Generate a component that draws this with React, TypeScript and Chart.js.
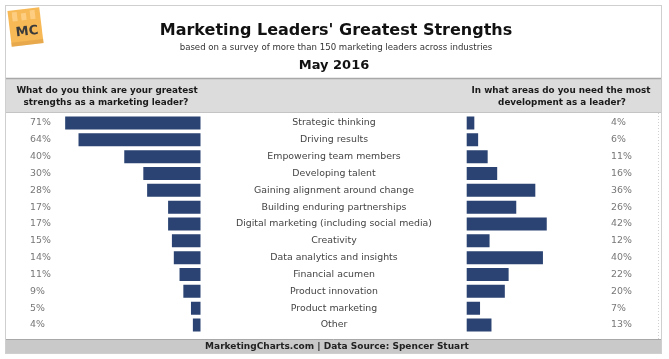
import React, { useEffect, useRef } from 'react';
import { Chart, registerables } from 'chart.js';

Chart.register(...registerables);

// ---- data ----
const categories = [
  'Strategic thinking',
  'Driving results',
  'Empowering team members',
  'Developing talent',
  'Gaining alignment around change',
  'Building enduring partnerships',
  'Digital marketing (including social media)',
  'Creativity',
  'Data analytics and insights',
  'Financial acumen',
  'Product innovation',
  'Product marketing',
  'Other',
];
const strengths = [71, 64, 40, 30, 28, 17, 17, 15, 14, 11, 9, 5, 4];
const development = [4, 6, 11, 16, 36, 26, 42, 12, 40, 22, 20, 7, 13];

const titleText = "Marketing Leaders' Greatest Strengths";
const subtitleText = 'based on a survey of more than 150 marketing leaders across industries';
const dateText = 'May 2016';
const leftHeader = ['What do you think are your greatest', 'strengths as a marketing leader?'];
const rightHeader = ['In what areas do you need the most', 'development as a leader?'];
const footerText = 'MarketingCharts.com | Data Source: Spencer Stuart';

// ---- layout ----
const W = 669;
const H = 359;
const AREA_L = 10;
const AREA_R = 659;
const AREA_T = 114.6;
const AREA_B = 333.4;
const PX_PER_UNIT = 1.906;
const LEFT_ZERO = 200.5;
const RIGHT_ZERO = 466.7;
const BAR_COLOR = '#2a4372';
const FONT = "'DejaVu Sans', Verdana, sans-serif";

const decorPlugin = {
  id: 'decor',
  beforeDraw(chart: any) {
    const ctx = chart.ctx as CanvasRenderingContext2D;
    ctx.save();
    ctx.fillStyle = '#ffffff';
    ctx.fillRect(0, 0, W, H);

    // header band
    ctx.fillStyle = '#dcdcdc';
    ctx.fillRect(5.5, 78.5, 656, 34);
    ctx.strokeStyle = '#a8a8a8';
    ctx.lineWidth = 1.5;
    ctx.beginPath();
    ctx.moveTo(5.5, 78.5);
    ctx.lineTo(661.5, 78.5);
    ctx.stroke();
    ctx.strokeStyle = '#c4c4c4';
    ctx.lineWidth = 1;
    ctx.beginPath();
    ctx.moveTo(5.5, 112.5);
    ctx.lineTo(661.5, 112.5);
    ctx.stroke();

    // footer band
    ctx.fillStyle = '#c9c9c9';
    ctx.fillRect(5.5, 339.5, 656, 14);
    ctx.strokeStyle = '#a8a8a8';
    ctx.beginPath();
    ctx.moveTo(5.5, 339.5);
    ctx.lineTo(661.5, 339.5);
    ctx.stroke();

    // dotted inner side lines
    ctx.strokeStyle = '#d0d0d0';
    ctx.setLineDash([1, 2]);
    ctx.beginPath();
    ctx.moveTo(658.5, 113);
    ctx.lineTo(658.5, 339);
    ctx.stroke();
    ctx.setLineDash([]);

    // outer border
    ctx.strokeStyle = '#cfcfcf';
    ctx.lineWidth = 1;
    ctx.strokeRect(5.5, 5.5, 656, 348);

    // logo
    ctx.save();
    ctx.translate(25.5, 27);
    ctx.rotate(-0.12);
    ctx.fillStyle = '#f7b955';
    ctx.fillRect(-16, -18, 32, 36);
    ctx.fillStyle = 'rgba(255,215,150,0.7)';
    ctx.fillRect(-12, -16, 5, 9);
    ctx.fillRect(-3, -14, 5, 7);
    ctx.fillRect(6, -16, 5, 9);
    ctx.fillStyle = 'rgba(200,140,60,0.35)';
    ctx.fillRect(-16, 14, 32, 4);
    ctx.fillStyle = '#3b3b3b';
    ctx.font = `bold 13px ${FONT}`;
    ctx.textAlign = 'center';
    ctx.textBaseline = 'middle';
    ctx.fillText('MC', 1, 5);
    ctx.restore();

    // titles
    ctx.textAlign = 'center';
    ctx.textBaseline = 'middle';
    ctx.fillStyle = '#111111';
    ctx.font = `bold 16px ${FONT}`;
    ctx.fillText(titleText, 336, 31);
    ctx.fillStyle = '#333333';
    ctx.font = `8.6px ${FONT}`;
    ctx.fillText(subtitleText, 336, 48);
    ctx.fillStyle = '#111111';
    ctx.font = `bold 13px ${FONT}`;
    ctx.fillText(dateText, 334, 66);

    // headers
    ctx.fillStyle = '#1a1a1a';
    ctx.font = `bold 8.8px ${FONT}`;
    ctx.fillText(leftHeader[0], 107, 90.5);
    ctx.fillText(leftHeader[1], 106, 103);
    ctx.fillText(rightHeader[0], 561, 90.5);
    ctx.fillText(rightHeader[1], 562, 103);

    // footer
    ctx.fillStyle = '#222222';
    ctx.font = `bold 9px ${FONT}`;
    ctx.fillText(footerText, 337, 346.5);
    ctx.restore();
  },
  afterDatasetsDraw(chart: any) {
    const ctx = chart.ctx as CanvasRenderingContext2D;
    const y = chart.scales.y;
    ctx.save();
    ctx.textBaseline = 'middle';
    ctx.font = `9.4px ${FONT}`;
    categories.forEach((c, i) => {
      const py = y.getPixelForValue(i);
      ctx.fillStyle = '#444444';
      ctx.textAlign = 'center';
      ctx.fillText(c, 334, py);
      ctx.fillStyle = '#777777';
      ctx.textAlign = 'left';
      ctx.fillText(`${strengths[i]}%`, 30, py);
      ctx.fillText(`${development[i]}%`, 611, py);
    });
    ctx.restore();
  },
};

export default function App() {
  const ref = useRef<HTMLCanvasElement | null>(null);
  useEffect(() => {
    if (!ref.current) return;
    const width = AREA_R - AREA_L;
    const chart = new Chart(ref.current, {
      type: 'bar',
      data: {
        labels: categories,
        datasets: [
          {
            label: 'Strengths',
            data: strengths,
            xAxisID: 'xL',
            backgroundColor: BAR_COLOR,
            grouped: false,
            barPercentage: 0.77,
            categoryPercentage: 1,
          } as any,
          {
            label: 'Development',
            data: development,
            xAxisID: 'xR',
            backgroundColor: BAR_COLOR,
            grouped: false,
            barPercentage: 0.77,
            categoryPercentage: 1,
          } as any,
        ],
      },
      options: {
        indexAxis: 'y',
        responsive: false,
        animation: false,
        devicePixelRatio: 1,
        layout: {
          padding: { left: AREA_L, right: W - AREA_R, top: AREA_T, bottom: H - AREA_B },
        },
        plugins: {
          legend: { display: false },
          title: { display: false },
          tooltip: { enabled: false },
        },
        scales: {
          y: { type: 'category', display: false, offset: true },
          xL: {
            type: 'linear',
            position: 'bottom',
            display: false,
            reverse: true,
            min: -(AREA_R - LEFT_ZERO) / PX_PER_UNIT,
            max: (LEFT_ZERO - AREA_L) / PX_PER_UNIT,
          },
          xR: {
            type: 'linear',
            position: 'bottom',
            display: false,
            min: -(RIGHT_ZERO - AREA_L) / PX_PER_UNIT,
            max: (AREA_R - RIGHT_ZERO) / PX_PER_UNIT,
          },
        },
      } as any,
      plugins: [decorPlugin],
    });
    void width;
    return () => chart.destroy();
  }, []);
  return (
    <div style={{ position: 'absolute', left: 0, top: 0, width: W, height: H }}>
      <canvas ref={ref} width={W} height={H} style={{ width: W, height: H, display: 'block' }} />
    </div>
  );
}
